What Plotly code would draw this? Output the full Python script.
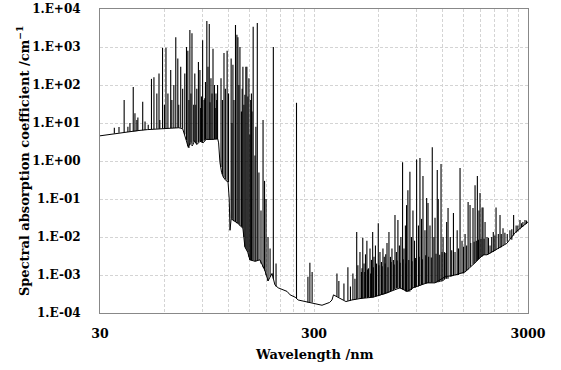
import plotly.graph_objects as go

# ---- data ----
# continuum / lower envelope of the spectrum
base_nm = [30, 33, 36, 40, 45, 50, 55, 62, 70, 73, 74.7, 76, 77.5, 79, 81, 83, 85, 88, 91, 94,
           100, 106.5, 107.5, 108, 109, 111, 113, 116, 119, 120.5, 121.5, 123, 132, 139.6, 142.6,
           147, 150.5, 159, 167.7, 177, 183, 191, 197, 204, 215, 224.5, 232, 245, 253, 287, 327,
           355, 364, 370, 390, 423, 451, 492, 566, 658, 756, 816, 870, 1012, 1103, 1228, 1368,
           1524, 1697, 1849, 1930, 2173, 2390, 2609, 2904, 3000]
base_k = [4.6, 5.0, 5.4, 5.8, 6.3, 6.7, 7.0, 7.4, 7.5, 7.1, 5.0, 3.4, 2.3, 2.9, 2.5, 3.4, 2.7, 3.3, 3.0, 3.7,
          3.7, 3.8, 3.0, 1.6, 0.93, 0.5, 0.38, 0.31, 0.28, 0.1, 0.015, 0.03, 0.023, 0.017, 0.0055,
          0.004, 0.0025, 0.0023, 0.0025, 0.0013, 0.0007, 0.0011, 0.00055, 0.00046, 0.0004, 0.00037,
          0.0003, 0.00026, 0.00022, 0.00019, 0.00016, 0.00019, 0.00022, 0.0003, 0.00026, 0.0002,
          0.00022, 0.00024, 0.00026, 0.00034, 0.00046, 0.00037, 0.00046, 0.00062, 0.00062, 0.0009,
          0.001, 0.0012, 0.0021, 0.0034, 0.0034, 0.0051, 0.0068, 0.013, 0.021, 0.025]

# absorption lines: wavelength, peak value, value at the foot of the line
line_nm = [35.0, 36.8, 38.9, 40.5, 41.4, 42.9, 43.7, 44.6, 45.1, 47.5, 48.7, 50.4, 52.2, 53.6, 55.3,
           56.6, 57.1, 58.8, 60.0, 61.0, 62.3, 64.2, 65.0, 66.4, 67.8, 69.3, 70.0, 71.5, 73.0, 74.7,
           76.1, 77.2, 78.1, 78.9, 79.8, 80.7, 82.2, 83.2, 84.1, 85.0, 86.5, 87.9, 88.6, 89.4, 90.5,
           91.9, 92.6, 93.3, 94.7, 95.9, 97.2, 98.0, 99.0, 100.1, 101.2, 102.8, 103.6, 104.5, 105.3,
           106.3,
           110.3, 112.0, 113.9, 115.6, 117.8, 119.6, 123.0, 124.1, 125.4, 126.8, 128.9, 130.9, 132.3,
           133.7, 135.2, 137.4, 138.5, 139.6, 141.1, 142.6, 144.1, 145.7, 147.3, 148.9, 150.5, 151.8,
           153.0, 154.0, 155.9, 158.9, 160.5, 163.0, 165.9, 169.6, 173.4, 176.2, 179.0, 182.9, 187.0,
           193.7, 199.4,
           248.5, 281, 287, 294, 384, 392, 414, 432, 444, 456, 466, 475, 481, 492, 500, 507, 514, 522,
           530, 539, 548, 557, 564, 572, 581, 588, 599, 610, 620, 630, 639, 649, 658, 672, 683, 694,
           705, 717, 728, 740, 752, 764, 778, 790, 802, 812, 824, 842, 856, 870, 885, 905, 923, 938,
           954, 969, 990, 1008, 1023, 1045, 1071, 1090, 1103, 1130, 1142, 1177, 1203, 1222, 1250,
           1269, 1300, 1345, 1368, 1400, 1444, 1475, 1524, 1575, 1608, 1660, 1697, 1740, 1770, 1790,
           1830, 1849, 1890, 1930, 1994, 2065, 2127, 2220, 2293, 2400, 2470, 2570, 2640, 2752, 2840,
           2904,
           503, 518, 534, 552, 568, 585, 603, 625, 645, 665, 688, 711, 734, 758, 783, 806, 832, 862,
           895, 930, 962, 998, 1030, 1060, 1115, 1160, 1190, 1240, 1320, 1420, 1500, 1550, 1620,
           1680, 1720, 1760, 1810, 1870, 1960, 2030, 2100, 2180, 2250, 2340, 2520, 2690, 2800, 2950]
line_peak = [7.5, 7.8, 40, 8, 10, 89, 18, 12, 14, 36, 11, 9, 145, 160, 60,
             200, 12, 950, 30, 950, 60, 250, 40, 100, 1800, 500, 30, 300, 80, 200,
             1000, 800, 40, 2800, 60, 2300, 30, 200, 30, 80, 400, 250, 25, 50, 1500,
             40, 45, 120, 4800, 300, 4000, 35, 150, 60, 900, 100, 25, 60, 40,
             100,
             150, 40, 700, 80, 800, 60, 500, 10, 340, 40, 3800, 2100, 1800,
             100, 1000, 20, 80, 300, 30, 55, 300, 300, 50, 150, 5, 40,
             60, 20, 3400, 1.4, 8, 4300, 0.5, 0.05, 12, 0.3, 0.1, 0.01, 0.005,
             1000, 0.002,
             34, 0.0009, 0.0021, 0.0012, 0.0011, 0.0007, 0.0006, 0.0016, 0.0005, 0.0011, 0.0008,
             0.0135, 0.0018, 0.004, 0.0012, 0.0095, 0.002, 0.0035,
             0.008, 0.0015, 0.005, 0.0025, 0.0135, 0.003, 0.006, 0.002, 0.023, 0.004, 0.0022, 0.005,
             0.003, 0.0035, 0.007, 0.0135, 0.003, 0.005,
             0.0025, 0.038, 0.004, 0.028, 0.006, 0.01, 0.93, 0.005, 0.02, 0.069, 0.17, 0.52, 0.01,
             0.05, 0.008, 1.1, 0.02, 1.2,
             0.03, 0.4, 0.015, 0.106, 0.079, 0.02, 2.3, 0.01, 0.032, 0.58, 0.1, 0.84, 0.01, 0.004,
             0.025,
             0.058, 0.01, 0.043, 0.004, 0.015, 0.65, 0.008, 0.012, 0.083, 0.069, 0.058, 0.23, 0.4,
             0.05, 0.144,
             0.06, 0.06, 0.025, 0.01, 0.006, 0.0135, 0.06, 0.038, 0.017, 0.012, 0.015, 0.038, 0.02,
             0.028, 0.025,
             0.028,
             0.0015, 0.0012, 0.0014, 0.0011, 0.0016, 0.0013, 0.0018, 0.0017, 0.002, 0.0016, 0.0022,
             0.0019, 0.0024, 0.0021, 0.0026, 0.002, 0.0025, 0.0023, 0.0028, 0.003, 0.0026, 0.0033,
             0.003, 0.0029, 0.0036, 0.0034, 0.004, 0.0038, 0.0045, 0.005, 0.0055, 0.006, 0.007,
             0.0075, 0.008, 0.0085, 0.009, 0.009, 0.0095, 0.01, 0.011, 0.012, 0.012, 0.013, 0.016,
             0.02, 0.023, 0.027]
line_foot = [5.3, 5.5, 5.7, 5.8, 5.9, 6.0, 6.0, 6.1, 6.2, 6.4, 6.5, 6.7, 6.9, 7.0, 7.1,
             7.1, 7.1, 7.2, 7.2, 7.3, 7.3, 7.4, 7.4, 7.4, 7.4, 7.5, 7.5, 7.5, 7.2, 5.0,
             3.5, 2.5, 2.2, 2.8, 3.0, 2.8, 3.2, 3.3, 3.0, 2.8, 3.1, 3.3, 3.2, 3.2, 3.1,
             3.4, 3.5, 3.6, 3.7, 3.7, 3.7, 3.7, 3.7, 3.7, 3.7, 3.8, 3.8, 3.8, 3.8,
             3.8,
             0.7, 0.45, 0.37, 0.33, 0.3, 0.28, 0.03, 0.03, 0.028, 0.026, 0.025, 0.023, 0.023,
             0.022, 0.02, 0.019, 0.018, 0.017, 0.01, 0.0055, 0.005, 0.0045, 0.004, 0.003, 0.0025,
             0.0025,
             0.0025, 0.0024, 0.0024, 0.0023, 0.0023, 0.0024, 0.0025, 0.002, 0.0016, 0.0013, 0.001,
             0.0007, 0.0009,
             0.0008, 0.0005,
             0.00024, 0.00019, 0.00019, 0.00019, 0.00027, 0.00026, 0.00022, 0.00021, 0.00021,
             0.00022, 0.00022,
             0.00023, 0.00024, 0.00024, 0.00024, 0.00025, 0.00025, 0.00025,
             0.00026, 0.00026, 0.00026, 0.00026, 0.00026, 0.00027, 0.00027, 0.00028, 0.00028,
             0.00029, 0.0003, 0.0003,
             0.00031, 0.00032, 0.00033, 0.00035, 0.00037, 0.00039,
             0.0004, 0.00043, 0.00045, 0.00046, 0.00045, 0.00044, 0.00042, 0.0004, 0.00038,
             0.00037, 0.00036, 0.00037, 0.0004,
             0.00046, 0.00047, 0.00048, 0.0005, 0.00052,
             0.00055, 0.00057, 0.0006, 0.0006, 0.00062, 0.00062, 0.00063, 0.00063, 0.00063,
             0.00064, 0.00064, 0.00066, 0.0007, 0.00075,
             0.0008,
             0.0008, 0.0009, 0.00095, 0.001, 0.001, 0.0011, 0.0011, 0.0012, 0.0014, 0.0016, 0.0019,
             0.0021, 0.0024,
             0.0027, 0.0028,
             0.003, 0.0032, 0.0034, 0.0034, 0.0037, 0.004, 0.0046, 0.0052, 0.006, 0.0075, 0.009,
             0.011, 0.013,
             0.016, 0.019,
             0.021,
             0.00024, 0.00025, 0.00025, 0.00026, 0.00026, 0.00027, 0.00028, 0.0003, 0.00032, 0.00034,
             0.00038, 0.00042, 0.00045, 0.00045, 0.00041, 0.00037, 0.00037, 0.00043, 0.00047,
             0.00051, 0.00056, 0.0006, 0.00062, 0.00063, 0.00063, 0.00065, 0.00068, 0.0008, 0.00092,
             0.001, 0.0011, 0.0013, 0.0017, 0.002, 0.0023, 0.0026, 0.003, 0.0034, 0.0035, 0.0039,
             0.0043, 0.0048, 0.0054, 0.0065, 0.0085, 0.014, 0.018, 0.022]

x_grid_vals = [30, 60, 90, 120, 150, 180, 210, 240, 270, 300, 600, 900, 1200, 1500, 1800,
               2100, 2400, 2700, 3000]
x_tick_text = ["30", "", "", "", "", "", "", "", "", "300", "", "", "", "", "", "", "", "", "3000"]
y_tick_vals = [1e-4, 1e-3, 1e-2, 1e-1, 1e0, 1e1, 1e2, 1e3, 1e4]
y_tick_text = ["1.E-04", "1.E-03", "1.E-02", "1.E-01", "1.E+00", "1.E+01", "1.E+02",
               "1.E+03", "1.E+04"]

# ---- build line segments for the absorption lines ----
seg_x, seg_y = [], []
for nm, pk, ft in zip(line_nm, line_peak, line_foot):
    seg_x += [nm, nm, None]
    seg_y += [ft, pk, None]

fig = go.Figure()
fig.add_trace(go.Scatter(x=seg_x, y=seg_y, mode="lines",
                         line=dict(color="black", width=1.1), hoverinfo="skip",
                         showlegend=False))
fig.add_trace(go.Scatter(x=base_nm, y=base_k, mode="lines",
                         line=dict(color="black", width=1), showlegend=False))

font_family = "DejaVu Serif"
grid_dash = "3px,2px"
fig.update_layout(
    width=561, height=370,
    margin=dict(l=100, r=33, t=9, b=57, autoexpand=False),
    paper_bgcolor="white", plot_bgcolor="white",
    font=dict(family=font_family, size=13, color="black", weight="bold"),
    xaxis=dict(type="log", range=[1.47712, 3.47712], automargin=False,
               tickmode="array", tickvals=x_grid_vals, ticktext=x_tick_text,
               showgrid=True, gridcolor="#d4d4d4", griddash=grid_dash, gridwidth=1,
               showline=True, linecolor="#888888", linewidth=1, mirror=True,
               ticks="", ticklabelstandoff=9,
               tickfont=dict(family=font_family, size=12.5, weight="bold"),
               zeroline=False),
    yaxis=dict(type="log", range=[-4, 4], automargin=False,
               tickmode="array", tickvals=y_tick_vals, ticktext=y_tick_text,
               showgrid=True, gridcolor="#d4d4d4", griddash=grid_dash, gridwidth=1,
               showline=True, linecolor="#888888", linewidth=1, mirror=True,
               ticks="", ticklabelstandoff=16,
               tickfont=dict(family=font_family, size=12, weight="bold"),
               zeroline=False),
    annotations=[
        dict(text="Wavelength /nm", xref="paper", yref="paper", x=0.5, y=-0.135,
             xanchor="center", yanchor="middle", showarrow=False,
             font=dict(family=font_family, size=13, weight="bold")),
        dict(text="Spectral absorption coefficient /cm<sup>−1</sup>", xref="paper",
             yref="paper", x=-0.182, y=0.5, xanchor="center", yanchor="middle",
             textangle=-90, showarrow=False,
             font=dict(family=font_family, size=13, weight="bold")),
    ],
)

fig.write_html("out.html", config={"displayModeBar": False},
               post_script="document.body.style.margin='0';document.body.style.overflow='hidden';")
